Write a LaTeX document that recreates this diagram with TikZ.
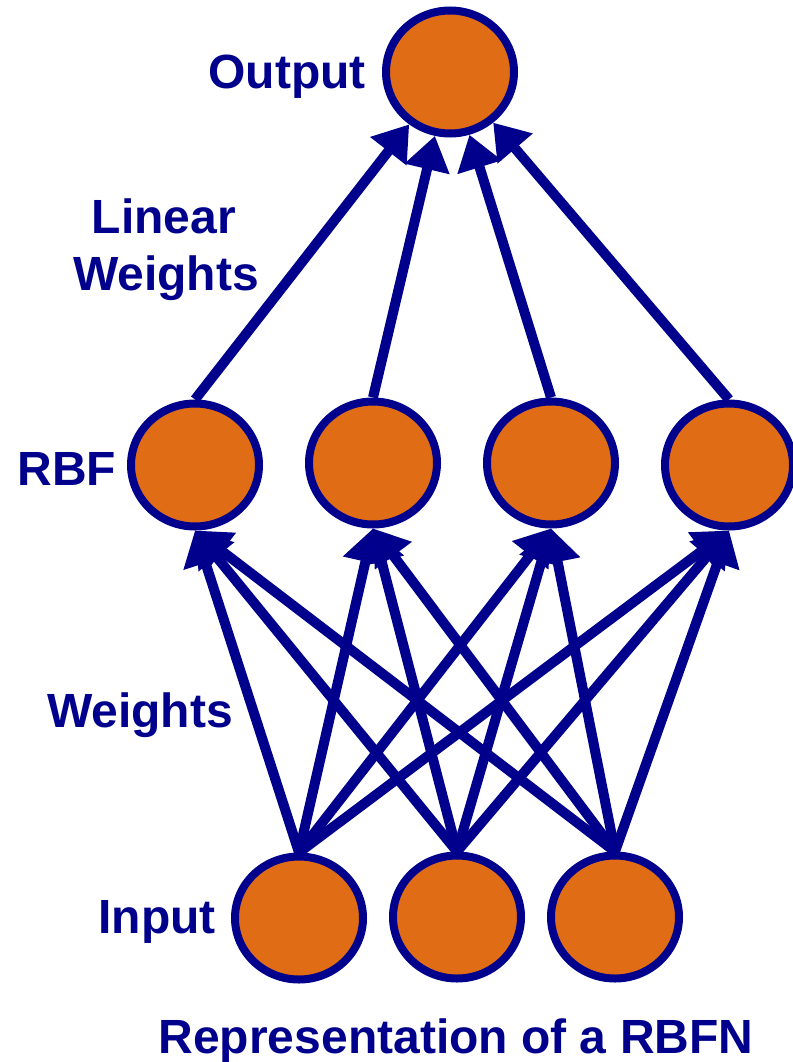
\documentclass[tikz,border=0pt]{standalone}
\usepackage{fontspec}
\setmainfont{Liberation Sans}
\usetikzlibrary{shapes.geometric,arrows.meta}

\definecolor{netblue}{RGB}{0,0,140}
\definecolor{netorange}{RGB}{225,108,22}

\tikzset{
  neuron/.style={ellipse, draw=netblue, fill=netorange, line width=8pt,
    minimum width=128pt, minimum height=123pt, inner sep=0pt},
  lbl/.style={text=netblue, font=\fontsize{48}{58}\selectfont\bfseries,
    inner sep=0pt, anchor=base},
  link/.style={draw=netblue, line width=10pt,
    -{Triangle[length=34pt, width=44pt]}}
}

\begin{document}
\begin{tikzpicture}[x=1pt, y=-1pt]
\useasboundingbox (0,0) rectangle (792,1062);

% neurons
\node[neuron] (out) at (450,72) {};

\node[neuron] (r1) at (195,465) {};
\node[neuron] (r2) at (373,463) {};
\node[neuron] (r3) at (551,463) {};
\node[neuron] (r4) at (729,465) {};

\node[neuron] (i1) at (299,918) {};
\node[neuron] (i2) at (457,917) {};
\node[neuron] (i3) at (615,917) {};

% input -> RBF weights
\foreach \i in {1,2,3}{
  \foreach \r in {1,2,3,4}{
    \draw[link] (i\i.north) -- (r\r.south);
  }
}

% RBF -> output linear weights
\foreach \r in {1,2,3,4}{
  \draw[link] (r\r.north) -- (out);
}

% labels
\node[lbl] (tout) at (287,89) {Output};
\node[lbl] (tlin) at (164,233) {Linear};
\node[lbl] (tlw) at (166,290) {Weights};
\node[lbl] (trbf) at (67,485) {RBF};
\node[lbl] (tw) at (140,727) {Weights};
\node[lbl] (tin) at (157,933) {Input};
\node[lbl] (title) at (456,1053) {Representation of a RBFN};
\end{tikzpicture}
\end{document}
